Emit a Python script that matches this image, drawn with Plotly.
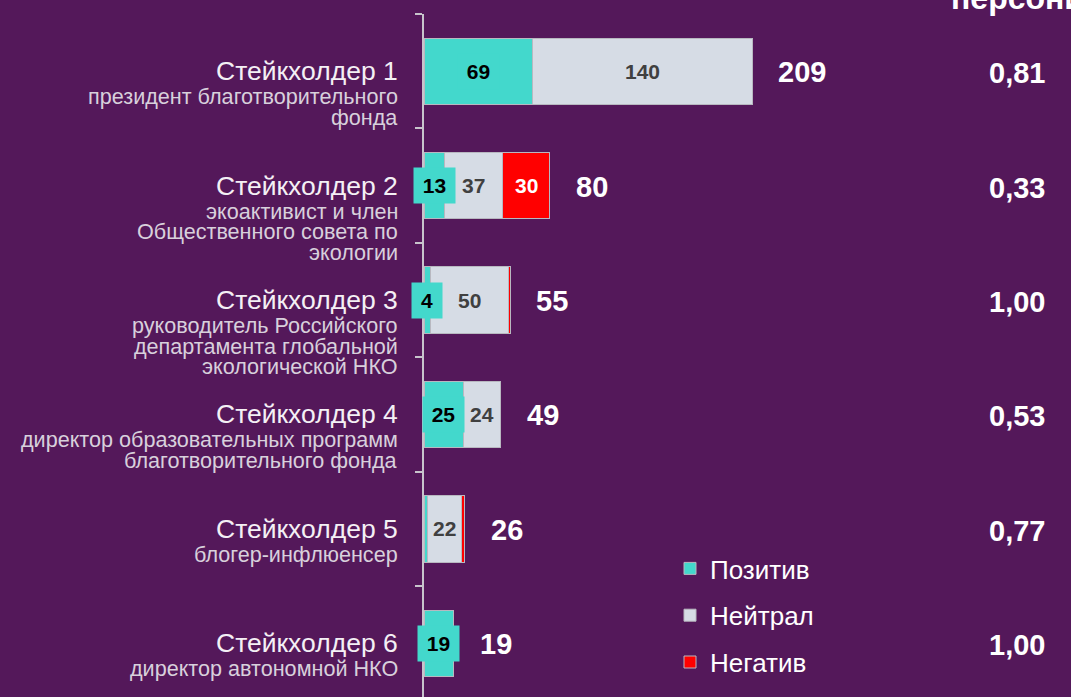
import plotly.graph_objects as go

# ---------------- data ----------------
titles = ["Стейкхолдер 1", "Стейкхолдер 2", "Стейкхолдер 3",
          "Стейкхолдер 4", "Стейкхолдер 5", "Стейкхолдер 6"]
subtitles = [
    ["президент благотворительного", "фонда"],
    ["экоактивист и член", "Общественного совета по", "экологии"],
    ["руководитель Российского", "департамента глобальной", "экологической НКО"],
    ["директор образовательных программ", "благотворительного фонда"],
    ["блогер-инфлюенсер"],
    ["директор автономной НКО"],
]
positive = [69, 13, 4, 25, 2, 19]
neutral = [140, 37, 50, 24, 22, 0]
negative = [0, 30, 1, 0, 2, 0]
totals = [209, 80, 55, 49, 26, 19]
ratios = ["0,81", "0,33", "1,00", "0,53", "0,77", "1,00"]
header = "персонификации"
series_names = ["Позитив", "Нейтрал", "Негатив"]

# ---------------- style ----------------
BG = "#54185A"
TEAL = "#43D8CC"
GREY = "#D6DCE5"
RED = "#FF0000"
FONT = "Arial, Liberation Sans, sans-serif"

W, H = 1071, 697
ML, MT = 424, 14
PW = W - ML

ypos = list(range(len(titles)))

fig = go.Figure()
for name, vals, col in zip(series_names, [positive, neutral, negative], [TEAL, GREY, RED]):
    fig.add_trace(go.Bar(
        y=ypos, x=vals, orientation="h", name=name, legendgroup=name,
        marker=dict(color=col, line=dict(color="#B8B8C0", width=1)),
        width=0.58, hoverinfo="skip",
    ))

ann = []
for i in ypos:
    ann.append(dict(x=0, xref="paper", y=i, yref="y", xanchor="right", yanchor="middle",
                    xshift=-24, text=titles[i], showarrow=False,
                    font=dict(family=FONT, size=26.5, color="#F4F0F5")))
    for k, line in enumerate(subtitles[i]):
        ann.append(dict(x=0, xref="paper", y=i, yref="y", xanchor="right", yanchor="middle",
                        xshift=-24, yshift=-(25.5 + 20.5 * k), text=line, showarrow=False,
                        font=dict(family=FONT, size=21.6, color="#D8D0DC")))
    p, n, g = positive[i], neutral[i], negative[i]
    if p >= 3:
        ann.append(dict(x=p / 2, y=i, xref="x", yref="y", text="<b>%d</b>" % p, showarrow=False,
                        bgcolor=TEAL, width=len(str(p)) * 11 + 17, height=33,
                        font=dict(family=FONT, size=21, color="#000000")))
    if n >= 3:
        ann.append(dict(x=p + n / 2, y=i, xref="x", yref="y", text="<b>%d</b>" % n, showarrow=False,
                        font=dict(family=FONT, size=21, color="#404040")))
    if g >= 3:
        ann.append(dict(x=p + n + g / 2, y=i, xref="x", yref="y", text="<b>%d</b>" % g, showarrow=False,
                        font=dict(family=FONT, size=21, color="#FFFFFF")))
    ann.append(dict(x=totals[i], y=i, xref="x", yref="y", xanchor="left", xshift=24, yshift=-1,
                    text="<b>%d</b>" % totals[i], showarrow=False,
                    font=dict(family=FONT, size=29, color="#FFFFFF")))
    ann.append(dict(x=(1016.5 - ML) / PW, xref="paper", y=i, yref="y", xanchor="center", yshift=-2,
                    text="<b>%s</b>" % ratios[i], showarrow=False,
                    font=dict(family=FONT, size=29, color="#FFFFFF")))

ann.append(dict(x=(949 - ML) / PW, xref="paper", y=1, yref="paper", xanchor="left", yanchor="bottom",
                yshift=-4, text="<b>%s</b>" % header, showarrow=False,
                font=dict(family=FONT, size=32, color="#FFFFFF")))

xmax = PW / ((752 - ML) / 209.0)

fig.update_layout(
    width=W, height=H,
    margin=dict(l=ML, r=0, t=MT, b=0, pad=0, autoexpand=False),
    paper_bgcolor=BG, plot_bgcolor=BG,
    barmode="stack", bargap=0.42,
    font=dict(family=FONT, color="#FFFFFF"),
    xaxis=dict(visible=False, range=[0, xmax], fixedrange=True),
    yaxis=dict(range=[5.47, -0.5], showgrid=False, zeroline=False, showticklabels=False,
               showline=True, linecolor="#C8C4CC", linewidth=2, fixedrange=True,
               ticks="outside", ticklen=7, tickwidth=2, tickcolor="#C8C4CC",
               tickvals=[-0.5, 0.5, 1.5, 2.5, 3.5, 4.5, 5.5]),
    legend=dict(xref="container", yref="container", x=670 / W, y=1 - 545 / H,
                xanchor="left", yanchor="top", traceorder="grouped", tracegroupgap=10,
                bgcolor="rgba(0,0,0,0)", font=dict(family=FONT, size=26, color="#FFFFFF")),
    annotations=ann,
    showlegend=True,
)

fig.write_html("out.html",
               config={"displayModeBar": False},
               post_script="document.body.style.margin='0';document.body.style.padding='0';"
                           "document.body.style.overflow='hidden';"
                           "document.documentElement.style.overflow='hidden';")
